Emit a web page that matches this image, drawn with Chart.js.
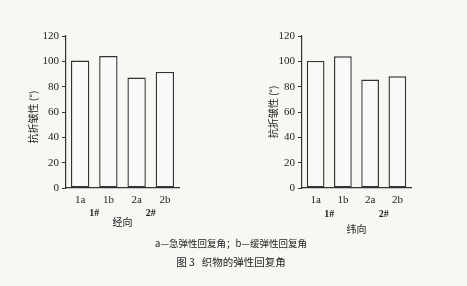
<!DOCTYPE html>
<html><head><meta charset="utf-8">
<script src="https://cdn.jsdelivr.net/npm/chart.js@4"></script>
<style>
html,body{margin:0;padding:0;background:#f7f7f4;width:467px;height:286px;overflow:hidden;position:relative;font-family:"Noto Sans CJK SC",sans-serif;}
#c1{position:absolute;left:0;top:0;}
#c2{position:absolute;left:233px;top:0;}
.cap{position:absolute;left:0;width:462px;text-align:center;color:#222;}
</style></head>
<body>
<canvas id="c1" width="233" height="240"></canvas>
<canvas id="c2" width="234" height="240"></canvas>
<div class="cap" style="top:236px;font-size:9.5px;">a—急弹性回复角；b—缓弹性回复角</div>
<div class="cap" style="top:254px;font-size:10.5px;">图 3&nbsp;&nbsp;&nbsp;织物的弹性回复角</div>
<script>
const categories = ["1a","1b","2a","2b"];
const warpValues = [100.6, 104.2, 87.2, 91.6];
const weftValues = [100.3, 104.0, 85.6, 88.2];
const groupLabels = ["1#","2#"];
const yTicks = [0,20,40,60,80,100,120];
const yTitle = "抗折皱性 (°)";

const groupPlugin = {
  id:'groups',
  afterDraw(chart, args, opts){
    const ctx = chart.ctx, x = chart.scales.x, y = chart.scales.y;
    ctx.save();
    ctx.fillStyle = '#222';
    ctx.textAlign = 'center';
    ctx.textBaseline = 'middle';
    ctx.font = 'bold 10px "Liberation Serif"';
    const g1 = (x.getPixelForValue(0)+x.getPixelForValue(1))/2;
    const g2 = (x.getPixelForValue(2)+x.getPixelForValue(3))/2;
    ctx.fillText(groupLabels[0], g1, x.top + opts.gy);
    ctx.fillText(groupLabels[1], g2, x.top + opts.gy);
    ctx.font = '10px "Noto Sans CJK SC"';
    ctx.fillText(opts.title, (x.left+x.right)/2, x.top + opts.ty);
    ctx.translate(opts.yx, y.getPixelForValue(opts.yv));
    ctx.rotate(-Math.PI/2);
    ctx.fillText(yTitle, 0, 0);
    ctx.restore();
  }
};

function make(id, values, title, padRight, yWidth, gy, ty, yx, yv){
  return new Chart(document.getElementById(id), {
    type:'bar',
    data:{labels:categories, datasets:[{data:values, backgroundColor:'#f9f9f7', borderColor:'#333', borderWidth:1.4, borderSkipped:false, barPercentage:0.65, categoryPercentage:1}]},
    options:{
      responsive:false, animation:false,
      layout:{padding:{top:36,right:padRight,left:0,bottom:0}},
      plugins:{legend:{display:false},tooltip:{enabled:false},groups:{gy:gy,ty:ty,title:title,yx:yx,yv:yv}},
      scales:{
        x:{
          grid:{display:true, offset:false, drawOnChartArea:false, drawTicks:true, tickLength:-3, color:'#333'},
          border:{color:'#333',width:1.2},
          ticks:{color:'#222',font:{family:'Liberation Serif',size:11},padding:9},
          afterFit(s){s.height=52;}
        },
        y:{
          min:0,max:120,
          afterBuildTicks(s){s.ticks = yTicks.map(v=>({value:v}));},
          grid:{display:true, drawOnChartArea:false, drawTicks:true, tickLength:4, color:'#333'},
          border:{color:'#333',width:1.2},
          ticks:{color:'#222',font:{family:'Liberation Serif',size:11},padding:3},
          afterFit(s){s.width=yWidth;}
        }
      }
    },
    plugins:[groupPlugin]
  });
}
make('c1', warpValues, '经向', 54, 66, 25, 34, 33, 56);
make('c2', weftValues, '纬向', 56, 69, 26, 41, 40, 60);
</script>
</body></html>
